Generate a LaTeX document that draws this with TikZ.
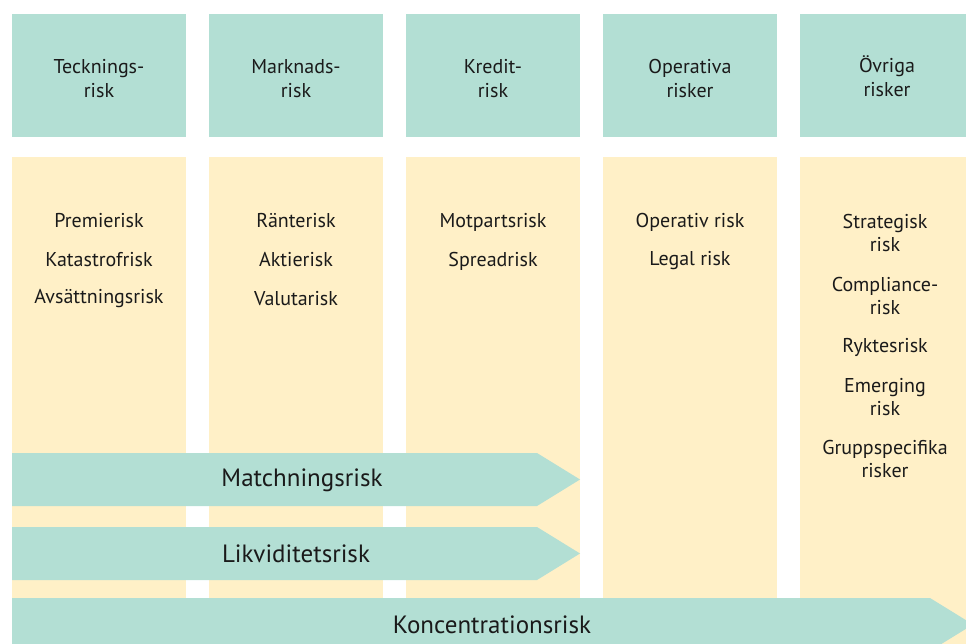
\documentclass[tikz,border=0pt]{standalone}
\usepackage{fontspec}
\setmainfont{PT Sans}
\definecolor{riskteal}{HTML}{B3DFD4}
\definecolor{riskcream}{HTML}{FFF0C7}
\definecolor{ink}{HTML}{1A1A1A}
\begin{document}
\begin{tikzpicture}[x=1pt,y=-1pt,
  headbox/.style={fill=riskteal, minimum width=174pt, minimum height=123pt,
    anchor=north west, inner sep=0pt},
  headlabel/.style={align=center, text=ink, inner sep=0pt,
    font=\fontsize{20}{24}\selectfont},
  colbox/.style={fill=riskcream, minimum width=174pt, minimum height=500pt,
    anchor=north west, inner sep=0pt},
  item/.style={align=center, text=ink, inner sep=0pt,
    font=\fontsize{20}{23}\selectfont},
  bandfill/.style={fill=riskteal},
  bandlabel/.style={text=ink, inner sep=0pt, font=\fontsize{25}{28}\selectfont}]
\useasboundingbox (0,0) rectangle (966,644);
\clip (0,0) rectangle (966,644);

% category headers
\node[headbox] (h1) at (12,14)  {};
\node[headbox] (h2) at (209,14) {};
\node[headbox] (h3) at (406,14) {};
\node[headbox] (h4) at (603,14) {};
\node[headbox] (h5) at (800,14) {};
\node[headlabel] (hl1) at (99,79)  {Tecknings-\\risk};
\node[headlabel] (hl2) at (296,79) {Marknads-\\risk};
\node[headlabel] (hl3) at (493,79) {Kredit-\\risk};
\node[headlabel] (hl4) at (690,79) {Operativa\\risker};
\node[headlabel] (hl5) at (887,76.5) {Övriga\\risker};

% column bodies
\node[colbox] (c1) at (12,157)  {};
\node[colbox] (c2) at (209,157) {};
\node[colbox] (c3) at (406,157) {};
\node[colbox] (c4) at (603,157) {};
\node[colbox] (c5) at (800,157) {};

% risks per category
\node[item] (t1) at (99,221) {Premierisk};
\node[item] (t2) at (99,260) {Katastrofrisk};
\node[item] (t3) at (99,299) {Avsättningsrisk};

\node[item] (m1) at (296,221) {Ränterisk};
\node[item] (m2) at (296,260) {Aktierisk};
\node[item] (m3) at (296,299) {Valutarisk};

\node[item] (k1) at (493,222) {Motpartsrisk};
\node[item] (k2) at (493,261) {Spreadrisk};

\node[item] (o1) at (690,222) {Operativ risk};
\node[item] (o2) at (690,261) {Legal risk};

\node[item] (v1) at (885,233) {Strategisk\\risk};
\node[item] (v2) at (885,296)   {Compliance-\\risk};
\node[item] (v3) at (885,347)   {Ryktesrisk};
\node[item] (v4) at (885,397) {Emerging\\risk};
\node[item] (v5) at (885,459) {Gruppspecifika\\risker};

% cross-cutting risk bands
\fill[bandfill] (12,453) -- (537,453) -- (580,479.5) -- (537,506) -- (12,506) -- cycle;
\node[bandlabel] (b1) at (302,480) {Matchningsrisk};

\fill[bandfill] (12,527) -- (537,527) -- (580,553.5) -- (537,580) -- (12,580) -- cycle;
\node[bandlabel] (b2) at (296,554) {Likviditetsrisk};

\fill[bandfill] (12,598) -- (930,598) -- (973,624.5) -- (930,651) -- (12,651) -- cycle;
\node[bandlabel] (b3) at (492,625) {Koncentrationsrisk};
\end{tikzpicture}
\end{document}
